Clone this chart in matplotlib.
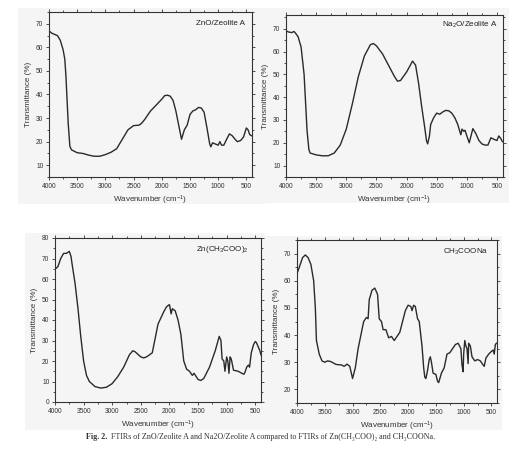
import matplotlib

matplotlib.use("Agg")

import matplotlib.pyplot as plt
from matplotlib.patches import Rectangle
from matplotlib.ticker import MultipleLocator

plt.rcParams["font.family"] = ["Liberation Sans", "DejaVu Sans"]
plt.rcParams["mathtext.fontset"] = "custom"
plt.rcParams["mathtext.rm"] = "Liberation Sans"
plt.rcParams["mathtext.it"] = "Liberation Sans:italic"

# ZnO/Zeolite A
zno_wn = [4000, 3950, 3900, 3850, 3800, 3750, 3720, 3700, 3680, 3660, 3630, 3600, 3500, 3400,
          3300, 3200, 3100, 3000, 2900, 2800, 2700, 2600, 2500, 2400, 2350, 2300, 2200, 2100,
          2000, 1950, 1900, 1850, 1800, 1750, 1700, 1650, 1600, 1550, 1500, 1450, 1400, 1350,
          1300, 1250, 1200, 1150, 1130, 1100, 1050, 1000, 970, 940, 900, 850, 800, 750, 700,
          660, 600, 550, 500, 470, 440, 410]
zno_t = [67, 66, 65.5, 65, 63, 59, 55, 48, 38, 28, 18, 16.5, 15.3, 15, 14.3, 13.8, 13.8, 14.5,
         15.5, 17, 21, 25, 26.8, 27, 28, 29.5, 33, 35.5, 38, 39.5, 39.7, 39.3, 37.5, 33, 27, 21,
         25, 27, 31.5, 33, 33.5, 34.5, 34.3, 32.5, 26, 19, 17.8, 19.5, 19, 18.5, 20, 18.5, 18.5,
         21, 23.3, 22.5, 21, 20, 20.5, 22, 25.8, 25, 23, 22.5]

# Na2O/Zeolite A
na2o_wn = [4000, 3950, 3900, 3870, 3850, 3800, 3750, 3700, 3680, 3650, 3620, 3600, 3500, 3400,
           3300, 3200, 3100, 3000, 2900, 2800, 2700, 2600, 2550, 2500, 2400, 2300, 2200, 2150,
           2100, 2000, 1900, 1850, 1800, 1750, 1700, 1670, 1650, 1620, 1600, 1550, 1500, 1450,
           1400, 1350, 1300, 1250, 1200, 1150, 1100, 1080, 1050, 1030, 1000, 960, 900, 850, 800,
           750, 700, 650, 600, 550, 500, 470, 440, 410]
na2o_t = [69, 68.5, 68.3, 68.8, 68.3, 66.5, 62, 50, 40, 25, 17, 15.5, 14.7, 14.3, 14.3, 15.5,
          19, 26, 37, 49, 58, 63, 63.5, 62.5, 59, 54, 49, 47, 47.3, 51, 55.8, 54, 46, 36, 27, 21,
          19.5, 23, 28, 31, 33, 32.5, 33.5, 34.2, 34, 33, 31, 28, 23.5, 26, 25, 25.5, 23, 20,
          26.2, 24, 21, 19.5, 19, 19, 22.2, 21.5, 21, 23, 22, 20.5]

# Zn(CH3COO)2
znac_wn = [4000, 3950, 3900, 3850, 3800, 3750, 3720, 3700, 3650, 3600, 3550, 3500, 3450, 3400,
           3300, 3200, 3100, 3000, 2900, 2800, 2700, 2640, 2600, 2500, 2450, 2400, 2350, 2300,
           2200, 2100, 2050, 2000, 1970, 1950, 1900, 1850, 1800, 1750, 1700, 1650, 1600, 1570,
           1500, 1450, 1400, 1300, 1200, 1130, 1100, 1080, 1050, 1030, 1000, 980, 960, 940, 920,
           880, 800, 700, 680, 650, 620, 600, 570, 530, 500, 480, 450, 420, 400]
znac_t = [64.8, 66, 70, 72.5, 72.5, 73.5, 71, 67, 58, 46, 32, 20, 13, 10, 7.5, 6.8, 7.2, 9,
          12.5, 17, 23, 25, 24.5, 22, 21.5, 22, 23, 24, 38, 44, 46.5, 47.5, 43, 45.5, 44.5, 40,
          33, 20, 16, 15, 13, 14, 11, 10.5, 11.5, 17, 25, 32, 30, 21, 20, 15, 22, 20, 14, 22,
          21, 15.5, 15, 13.5, 14.5, 17, 18, 17, 24, 28, 29.5, 29, 27, 25, 23]

# CH3COONa
naac_wn = [4000, 3950, 3900, 3850, 3800, 3750, 3700, 3670, 3650, 3600, 3550, 3500, 3450, 3400,
           3350, 3300, 3200, 3150, 3100, 3050, 3000, 2950, 2900, 2850, 2800, 2750, 2720, 2700,
           2650, 2600, 2550, 2520, 2480, 2450, 2400, 2350, 2300, 2250, 2200, 2150, 2100, 2050,
           2000, 1950, 1930, 1900, 1870, 1830, 1800, 1750, 1720, 1700, 1680, 1650, 1620, 1600,
           1580, 1550, 1500, 1470, 1450, 1400, 1350, 1300, 1250, 1200, 1150, 1100, 1050, 1030,
           1010, 1000, 980, 960, 940, 920, 910, 880, 850, 800, 750, 700, 650, 630, 600, 550,
           500, 470, 450, 430, 410]
naac_t = [62.6, 65.5, 68.5, 69.5, 68.5, 66, 60, 50, 38, 33, 30.5, 30, 30.5, 30.3, 29.8, 29.2,
          29, 28.5, 29.3, 28.5, 24, 28, 35, 40, 45, 46.5, 46, 53, 56.5, 57.3, 55, 46, 45, 42, 42,
          39, 39.5, 38, 39.5, 41, 45, 49, 51, 50.5, 49, 51, 50.5, 46, 45, 36, 28, 24.5, 24, 27,
          31, 32, 30, 26, 25.5, 23, 22.5, 26, 28, 33, 33.5, 35, 36.5, 37, 35, 29, 26.5, 33, 38,
          36, 35, 29.5, 37, 36, 32, 30.5, 31, 30.5, 29, 28.5, 31.5, 33, 34, 34.5, 33, 36.5, 37]

FIG_W, FIG_H = 521, 457
BG = "#f5f5f5"
SERIF = ["Liberation Serif", "DejaVu Serif"]

PANELS = [
    # (wn, t, label, axes box px (l, r, top, bottom), ylim, label pos)
    (zno_wn, zno_t, "ZnO/Zeolite A", (49, 252, 12, 177), (5, 75), (0.965, 0.93)),
    (na2o_wn, na2o_t, "Na$_2$O/Zeolite A", (286, 503, 15, 177), (5, 76), (0.975, 0.94)),
    (znac_wn, znac_t, "Zn(CH$_3$COO)$_2$", (55, 261, 238, 402), (0, 80), (0.94, 0.93)),
    (naac_wn, naac_t, "CH$_3$COONa", (297, 497, 240, 403), (15, 75), (0.955, 0.93)),
]

BOXES = [(18, 265, 8, 204), (265, 509, 8, 203), (25, 265, 233, 430), (265, 502, 236, 430)]


def px_rect(l, r, t, b):
    return [l / FIG_W, 1 - b / FIG_H, (r - l) / FIG_W, (b - t) / FIG_H]


def draw_panel(fig, wn, t, label, box, ylim, lpos):
    ax = fig.add_axes(px_rect(*box))
    ax.set_facecolor("none")
    ax.plot(wn, t, color="#2a2a2a", linewidth=1.0)
    ax.set_xlim(4000, 400)
    ax.set_ylim(*ylim)
    ax.xaxis.set_major_locator(MultipleLocator(500))
    ax.xaxis.set_minor_locator(MultipleLocator(250))
    ax.yaxis.set_major_locator(MultipleLocator(10))
    ax.yaxis.set_minor_locator(MultipleLocator(5))
    ax.tick_params(which="both", direction="out", top=True, right=True,
                   labelsize=4.8, width=0.6, pad=1.5, colors="#333333")
    ax.tick_params(which="major", length=2.5)
    ax.tick_params(which="minor", length=1.5)
    for sp in ax.spines.values():
        sp.set_linewidth(0.8)
        sp.set_color("#333333")
    ax.set_xlabel("Wavenumber (cm$^{-1}$)", fontsize=5.8, labelpad=3, color="#333333")
    ax.set_ylabel("Transmittance (%)", fontsize=5.8, labelpad=3, color="#333333")
    ax.text(lpos[0], lpos[1], label, transform=ax.transAxes, ha="right", va="center",
            fontsize=5.8, color="#222222")


def draw_caption(fig):
    y = 1 - 437 / FIG_H
    head = fig.text(0, y, "Fig. 2.", fontsize=5.8, family=SERIF, weight="bold",
                    va="center", color="#333333")
    body = fig.text(0, y, "  FTIRs of ZnO/Zeolite A and Na2O/Zeolite A compared to FTIRs of "
                          "Zn(CH\u2083COO)\u2082 and CH\u2083COONa.",
                    fontsize=5.8, family=SERIF, va="center", color="#333333")
    renderer = fig.canvas.get_renderer()
    w_head = head.get_window_extent(renderer).width / FIG_W
    w_body = body.get_window_extent(renderer).width / FIG_W
    x0 = 0.5 - (w_head + w_body) / 2
    head.set_x(x0)
    body.set_x(x0 + w_head)


def main() -> None:
    fig = plt.figure(figsize=(FIG_W / 100, FIG_H / 100), dpi=100)
    fig.patch.set_facecolor("white")
    for b in BOXES:
        fig.patches.append(Rectangle((b[0] / FIG_W, 1 - b[3] / FIG_H), (b[1] - b[0]) / FIG_W,
                                     (b[3] - b[2]) / FIG_H, transform=fig.transFigure,
                                     facecolor=BG, edgecolor="none", zorder=-10))
    for wn, t, label, box, ylim, lpos in PANELS:
        draw_panel(fig, wn, t, label, box, ylim, lpos)
    draw_caption(fig)
    fig.savefig("out.png", dpi=100)
    plt.close(fig)


if __name__ == "__main__":
    main()
